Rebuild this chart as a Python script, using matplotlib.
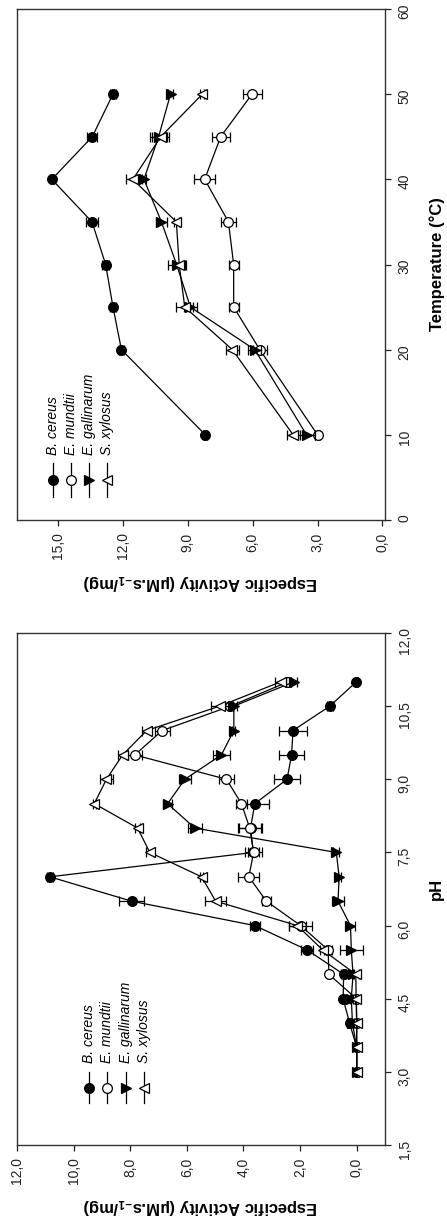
import matplotlib
matplotlib.use('Agg')
import matplotlib.pyplot as plt
from matplotlib.ticker import FuncFormatter

plt.rcParams['font.family'] = ['Liberation Sans', 'DejaVu Sans']
plt.rcParams['mathtext.fontset'] = 'custom'
plt.rcParams['mathtext.rm'] = 'Liberation Sans'
plt.rcParams['mathtext.bf'] = 'Liberation Sans:bold'

# ---------------- data ----------------
species = ['B. cereus', 'E. mundtii', 'E. gallinarum', 'S. xylosus']

temps = [10, 20, 25, 30, 35, 40, 45, 50]
t_bcereus = [8.19, 12.07, 12.46, 12.80, 13.43, 15.29, 13.42, 12.46]
t_bcereus_err = [0.10, 0.10, 0.15, 0.15, 0.27, 0.10, 0.23, 0.12]
t_emundtii = [3.00, 5.67, 6.88, 6.88, 7.12, 8.22, 7.48, 6.03]
t_emundtii_err = [0.10, 0.31, 0.23, 0.23, 0.36, 0.49, 0.41, 0.44]
t_egall = [3.51, 5.90, 8.88, 9.52, 10.22, 11.03, 10.35, 9.80]
t_egall_err = [0.40, 0.30, 0.30, 0.40, 0.27, 0.10, 0.40, 0.10]
t_sxyl = [4.13, 6.94, 9.14, 9.40, 9.53, 11.54, 10.25, 8.33]
t_sxyl_err = [0.30, 0.30, 0.40, 0.30, 0.10, 0.30, 0.40, 0.10]

ph = [3.0, 3.5, 4.0, 4.5, 5.0, 5.5, 6.0, 6.5, 7.0, 7.5, 8.0, 8.5, 9.0, 9.5, 10.0, 10.5, 11.0]
p_bcereus = [0.00, 0.00, 0.25, 0.48, 0.46, 1.75, 3.60, 7.95, 10.84, 3.65, 3.75, 3.60, 2.46, 2.30, 2.25, 0.95, 0.01]
p_bcereus_err = [0.03, 0.03, 0.05, 0.05, 0.08, 0.20, 0.18, 0.43, 0.10, 0.20, 0.40, 0.50, 0.45, 0.45, 0.50, 0.10, 0.05]
p_emundtii = [0.00, 0.00, 0.00, 0.01, 0.98, 1.01, 1.98, 3.19, 3.81, 3.64, 3.78, 4.07, 4.60, 7.84, 6.87, 4.46, 2.42]
p_emundtii_err = [0.02, 0.02, 0.02, 0.03, 0.05, 0.15, 0.41, 0.15, 0.37, 0.31, 0.40, 0.20, 0.25, 0.25, 0.26, 0.10, 0.10]
p_egall = [0.00, 0.00, 0.15, 0.19, 0.13, 0.19, 0.22, 0.66, 0.62, 0.72, 5.72, 6.68, 6.07, 4.78, 4.34, 4.34, 2.21]
p_egall_err = [0.02, 0.02, 0.05, 0.05, 0.05, 0.40, 0.15, 0.20, 0.05, 0.10, 0.24, 0.15, 0.20, 0.29, 0.05, 0.10, 0.10]
p_sxyl = [0.00, 0.00, 0.00, 0.02, 0.03, 1.20, 2.10, 4.98, 5.48, 7.31, 7.74, 9.27, 8.84, 8.27, 7.42, 4.84, 2.68]
p_sxyl_err = [0.02, 0.02, 0.02, 0.05, 0.10, 0.10, 0.30, 0.38, 0.05, 0.15, 0.10, 0.05, 0.24, 0.15, 0.15, 0.30, 0.20]

temp_ticks = [0, 10, 20, 30, 40, 50, 60]
temp_act_ticks = [15, 12, 9, 6, 3, 0]
ph_ticks = [1.5, 3.0, 4.5, 6.0, 7.5, 9.0, 10.5, 12.0]
ph_act_ticks = [12, 10, 8, 6, 4, 2, 0]

# ---------------- styles ----------------
markers = ['o', 'o', '>', '<']
faces = ['black', 'white', 'black', 'white']

W, H = 447, 1222
fig = plt.figure(figsize=(W / 100, H / 100), dpi=100)
ax_t = fig.add_axes([17 / W, 1 - 520 / H, 368 / W, 511 / H])
ax_p = fig.add_axes([17 / W, 1 - 1145 / H, 368 / W, 512 / H])

comma1 = FuncFormatter(lambda v, p: f"{v:.1f}".replace('.', ','))
intfmt = FuncFormatter(lambda v, p: f"{v:.0f}")


def draw(ax, yvals, series):
    for i, (vals, errs) in enumerate(series):
        ax.errorbar(vals, yvals, xerr=errs, marker=markers[i], mfc=faces[i],
                    mec='black', mew=0.9, color='black', lw=0.9, ms=7,
                    capsize=3.5, elinewidth=0.9, capthick=0.9, zorder=3 + i)


def style(ax, xlim, xticks, ylim, yticks, yfmt):
    ax.set_xlim(*xlim)
    ax.set_ylim(*ylim)
    ax.set_xticks(xticks)
    ax.set_yticks(yticks)
    ax.xaxis.set_major_formatter(comma1)
    ax.yaxis.set_major_formatter(yfmt)
    ax.yaxis.tick_right()
    ax.xaxis.tick_bottom()
    ax.tick_params(axis='both', direction='out', length=4, width=0.9,
                   labelsize=10, pad=5, labelrotation=90, colors='#222222')
    for s in ax.spines.values():
        s.set_linewidth(1.0)
        s.set_color('#333333')


def legend(ax, xs, y_lo, y_mid, y_hi, y_text):
    for i, name in enumerate(species):
        ax.plot([xs[i], xs[i]], [y_lo, y_hi], color='black', lw=0.9,
                transform=ax.transAxes, clip_on=False)
        ax.plot([xs[i]], [y_mid], marker=markers[i], mfc=faces[i], mec='black',
                mew=0.9, ms=7, color='black', transform=ax.transAxes, clip_on=False)
        ax.text(xs[i], y_text, name, rotation=90, ha='center', va='bottom',
                fontsize=10, fontstyle='italic', transform=ax.transAxes)


act_label = r"Especific Activity (µM.s$_{\mathbf{-1}}$/mg)"

# temperature panel
draw(ax_t, temps, [(t_bcereus, t_bcereus_err), (t_emundtii, t_emundtii_err),
                   (t_egall, t_egall_err), (t_sxyl, t_sxyl_err)])
style(ax_t, (16.9, -0.12), temp_act_ticks, (0, 60), temp_ticks, intfmt)
legend(ax_t, [0.098, 0.147, 0.196, 0.245], 0.045, 0.078, 0.1115, 0.127)
ax_t.text(0.497, -0.123, act_label, rotation=180, ha='center', va='center',
          fontsize=12, fontweight='bold', transform=ax_t.transAxes)
ax_t.text(1.141, 0.5, 'Temperature (°C)', rotation=90, ha='center', va='center',
          fontsize=12, fontweight='bold', transform=ax_t.transAxes)

# pH panel
draw(ax_p, ph, [(p_bcereus, p_bcereus_err), (p_emundtii, p_emundtii_err),
                (p_egall, p_egall_err), (p_sxyl, p_sxyl_err)])
style(ax_p, (12, -1), ph_act_ticks, (1.5, 12), ph_ticks, comma1)
legend(ax_p, [0.196, 0.245, 0.296, 0.345], 0.082, 0.111, 0.1426, 0.160)
ax_p.text(0.497, -0.121, act_label, rotation=180, ha='center', va='center',
          fontsize=12, fontweight='bold', transform=ax_p.transAxes)
ax_p.text(1.141, 0.5, 'pH', rotation=90, ha='center', va='center',
          fontsize=12, fontweight='bold', transform=ax_p.transAxes)

fig.savefig('out.png', dpi=100)
